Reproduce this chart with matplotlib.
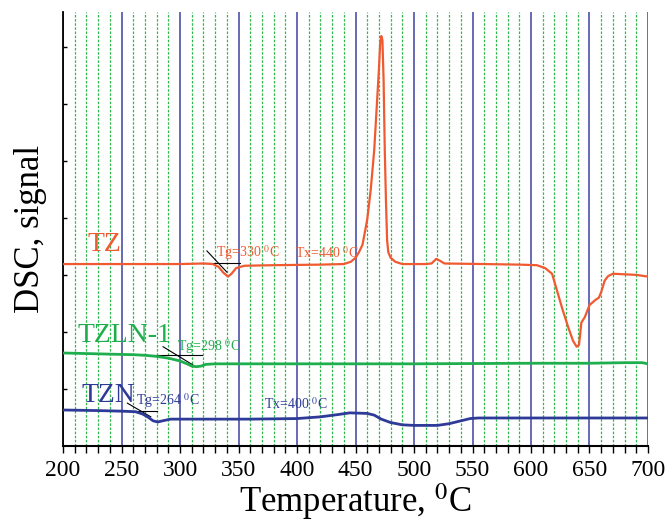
import matplotlib
matplotlib.use("Agg")
import matplotlib.pyplot as plt
from matplotlib.ticker import MultipleLocator, NullFormatter

plt.rcParams['font.family'] = ['Liberation Serif', 'DejaVu Serif']
plt.rcParams['mathtext.fontset'] = 'stix'

# TZ curve (temperature, signal)
tz_t = [200, 250, 300, 320, 328, 333, 337, 341, 344, 348, 355, 380, 420, 440, 446,
        450, 453, 456, 460, 463, 466, 468, 470, 471, 472, 473, 474, 475, 476, 477,
        478, 480, 484, 490, 510, 515, 519, 522, 526, 560, 590, 605, 612, 618, 622,
        627, 632, 636, 639, 641, 642, 643, 646, 650, 655, 658, 660, 663, 666, 670,
        690, 700]
tz_v = [3.19, 3.19, 3.19, 3.20, 3.19, 3.14, 3.04, 2.97, 3.02, 3.12, 3.16, 3.17, 3.18, 3.19, 3.23,
        3.30, 3.40, 3.53, 3.97, 4.49, 5.19, 5.90, 6.60, 7.04, 7.19, 7.12, 6.42, 5.20, 4.32, 3.61,
        3.40, 3.30, 3.23, 3.19, 3.19, 3.20, 3.28, 3.25, 3.20, 3.19, 3.18, 3.17, 3.12, 3.02, 2.74,
        2.39, 2.07, 1.84, 1.74, 1.77, 1.95, 2.16, 2.26, 2.47, 2.56, 2.60, 2.70, 2.90, 2.98, 3.02,
        3.00, 2.97]

# TZLN-1 curve
tzln_t = [200, 220, 240, 260, 270, 280, 290, 300, 306, 310, 314, 318, 322, 330, 400,
          500, 600, 650, 680, 695, 700]
tzln_v = [1.63, 1.62, 1.61, 1.60, 1.59, 1.57, 1.54, 1.49, 1.44, 1.40, 1.39, 1.40, 1.43, 1.44, 1.44,
          1.44, 1.45, 1.45, 1.46, 1.46, 1.44]

# TZN curve
tzn_t = [200, 230, 250, 262, 268, 273, 277, 281, 285, 292, 320, 360, 400, 420, 435,
         445, 460, 466, 472, 480, 490, 500, 520, 530, 540, 548, 555, 600, 650, 700]
tzn_v = [0.63, 0.62, 0.61, 0.60, 0.56, 0.50, 0.44, 0.42, 0.44, 0.47, 0.47, 0.47, 0.48, 0.51, 0.55,
         0.58, 0.57, 0.54, 0.47, 0.41, 0.37, 0.36, 0.36, 0.39, 0.44, 0.48, 0.49, 0.49, 0.49, 0.49]

# tangent construction lines for Tg
tg_lines = {
    'TZ':     ([323, 340], [3.42, 3.05], [317, 351], [3.21, 3.21]),
    'TZLN-1': ([285.5, 311], [1.74, 1.42], [267.5, 319], [1.60, 1.60]),
    'TZN':    ([255, 275], [0.75, 0.51], [243, 280], [0.61, 0.61]),
}

# annotations (text, temperature, signal)
notes = [
    ('Tg=330 $^0$C', 331, 3.39, '#f05a30'),
    ('Tx=440 $^0$C', 398, 3.39, '#f05a30'),
    ('Tg=298 $^0$C', 297, 1.74, '#1fae4e'),
    ('Tg=264 $^0$C', 262, 0.79, '#2e3a98'),
    ('Tx=400 $^0$C', 372, 0.74, '#2e3a98'),
]
names = [('TZ', 221, 3.54, '#f05a30'), ('TZLN-1', 212, 1.93, '#1fae4e'), ('TZN', 216, 0.89, '#2e3a98')]

fig = plt.figure(figsize=(6.67, 5.24), dpi=100)
ax = fig.add_axes([0.0945, 0.149, 0.877, 0.828])

# vertical grid
ax.xaxis.set_major_locator(MultipleLocator(50))
ax.xaxis.set_minor_locator(MultipleLocator(10))
ax.grid(which='major', axis='x', color='#4b51a8', lw=1.2, ls='-', zorder=0)
ax.grid(which='minor', axis='x', color='#2fb84f', lw=0.9, ls=(0, (2, 1.3)), zorder=0)
ax.set_axisbelow(True)

for key, (sx, sy, hx, hy) in tg_lines.items():
    ax.plot(sx, sy, color='black', lw=0.8, zorder=2)
    ax.plot(hx, hy, color='black', lw=0.8, zorder=2)

ax.plot(tz_t, tz_v, color='#f05a30', lw=1.6, zorder=3)
ax.plot(tzln_t, tzln_v, color='#1fae4e', lw=2.0, zorder=3)
ax.plot(tzn_t, tzn_v, color='#2e3a98', lw=2.0, zorder=3)

for s, x, y, c in notes:
    ax.text(x, y, s, color=c, fontsize=10, ha='left', va='center', zorder=4)
for s, x, y, c in names:
    ax.text(x, y, s, color=c, fontsize=20, ha='left', va='center', zorder=4)

ax.set_xlim(200, 700)
ax.set_ylim(0, 7.61)
ax.set_yticks([1, 2, 3, 4, 5, 6, 7])
ax.yaxis.set_major_formatter(NullFormatter())
ax.tick_params(axis='y', direction='in', length=3, width=1)
ax.tick_params(axis='x', which='both', direction='out', length=5, width=1, labelsize=17, pad=5)

for sp in ['top', 'right']:
    ax.spines[sp].set_visible(False)
ax.spines['left'].set_linewidth(1.3)
ax.spines['bottom'].set_linewidth(1.5)

# hide gridline at 700
gl = ax.xaxis.get_gridlines()
gl[-1].set_visible(False)

ax.set_xlabel('Temperature, $^0$C', fontsize=25, labelpad=0)
ax.set_ylabel('DSC, signal', fontsize=25, labelpad=8)

fig.savefig('out.png', dpi=100)
